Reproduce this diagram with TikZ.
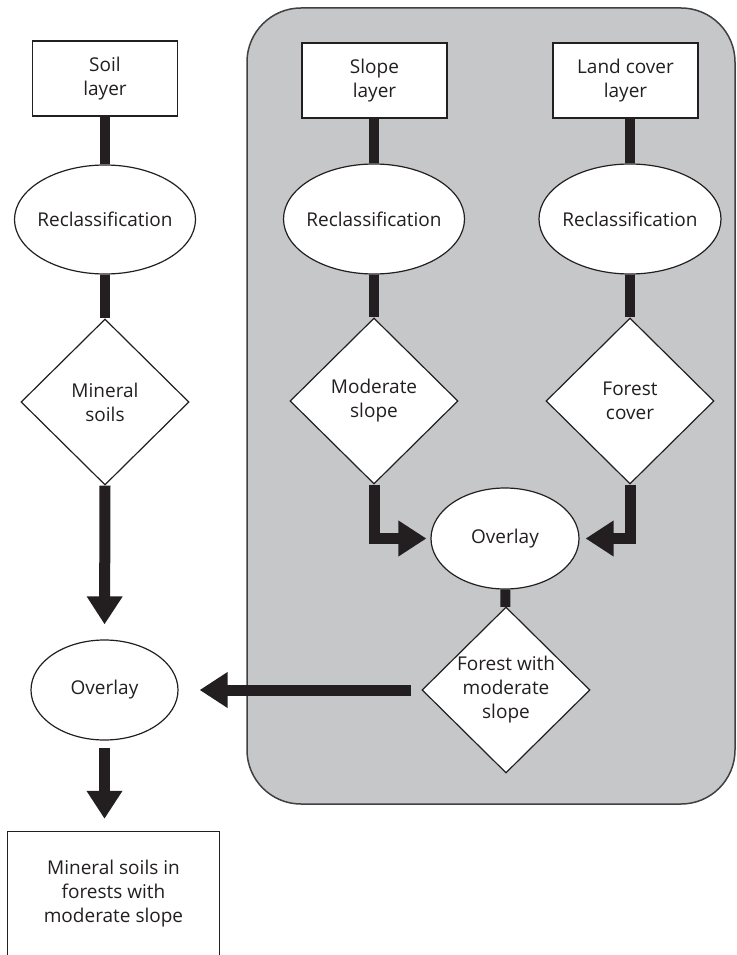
\documentclass[tikz,border=0pt]{standalone}
\usepackage{fontspec}
\setmainfont{Open Sans}
\usetikzlibrary{shapes.geometric,arrows.meta}

\newlength{\du}
\setlength{\du}{1\unitlength}

\definecolor{inkcolor}{RGB}{35,31,32}
\definecolor{panelcolor}{RGB}{198,199,201}
\definecolor{panelline}{RGB}{64,64,66}

\tikzset{
  lbl/.style={font=\fontsize{19}{24}\selectfont, text=inkcolor, align=center, inner sep=0pt},
  layerbox/.style={lbl, draw=inkcolor, fill=white, line width=1.2\du, minimum width=145\du, minimum height=75\du},
  procell/.style={lbl, ellipse, draw=inkcolor, fill=white, line width=1.2\du, inner xsep=-8\du},
  testdiam/.style={lbl, diamond, aspect=1, draw=inkcolor, fill=white, line width=1.2\du, minimum width=168\du, minimum height=166\du},
  panel/.style={draw=panelline, fill=panelcolor, line width=1.5\du, rounded corners=54\du},
  stem/.style={draw=inkcolor, line width=10\du},
  flow/.style={draw=inkcolor, line width=11\du, -{Triangle[length=28pt,width=34pt]}},
  boxline/.style={draw=inkcolor, line width=1.2\du},
}

\begin{document}
\begin{tikzpicture}
\pgftransformxscale{1.000000}
\pgftransformyscale{-1.000000}
\useasboundingbox (0\du,0\du) rectangle (736\du,955\du);

% grey block
\draw[panel] (247\du,8\du) rectangle (735\du,804\du);

% layers
\node[layerbox] (soil) at (105\du,78.5\du) {Soil\\layer};
\node[layerbox] (slope) at (374.5\du,80.5\du) {Slope\\layer};
\node[layerbox] (land) at (625.5\du,80.5\du) {Land cover\\layer};

% reclassification
\node[procell, minimum width=181\du, minimum height=109\du] (rcsoil) at (105\du,219.5\du) {Reclassification};
\node[procell, minimum width=181\du, minimum height=110\du] (rcslope) at (374\du,219\du) {Reclassification};
\node[procell, minimum width=182\du, minimum height=110\du] (rcland) at (630\du,219\du) {Reclassification};

% selections
\node[testdiam] (mineral) at (105\du,402\du) {Mineral\\soils};
\node[testdiam] (moderate) at (374\du,401\du) {Moderate\\slope};
\node[testdiam] (forest) at (630\du,401\du) {Forest\\cover};

% overlays
\node[procell, minimum width=148\du, minimum height=101\du] (ovtop) at (505\du,538.5\du) {Overlay};
\node[testdiam] (fwms) at (506\du,690\du) {Forest with\\moderate\\slope};
\node[procell, minimum width=147\du, minimum height=100\du] (ovleft) at (104.5\du,690\du) {Overlay};
\node[lbl, minimum width=211\du, minimum height=123\du, fill=white] (result) at (113.5\du,893.5\du) {Mineral soils in\\forests with\\moderate slope};
\draw[boxline] (result.south west) -- (result.north west) -- (result.north east) -- (result.south east);

% stems
\draw[stem] (soil) -- (rcsoil);
\draw[stem] (rcsoil) -- (mineral);
\draw[stem] (rcslope.north |- slope.south) -- (rcslope);
\draw[stem] (rcslope) -- (moderate);
\draw[stem] (rcland.north |- land.south) -- (rcland);
\draw[stem] (rcland) -- (forest);
\draw[stem] (ovtop) -- (fwms);

% arrows
\draw[flow, shorten >=4pt] (moderate.south) |- (ovtop.west);
\draw[flow, shorten >=6pt] (forest.south) |- (ovtop.east);
\draw[flow, shorten <=10pt, shorten >=21pt] (fwms.west) -- (ovleft.east);
\draw[flow, shorten >=15pt] (mineral.south) -- (ovleft.north);
\draw[flow, shorten <=7pt, shorten >=13pt] (ovleft.south) -- (ovleft.south |- result.north);
\end{tikzpicture}
\end{document}
